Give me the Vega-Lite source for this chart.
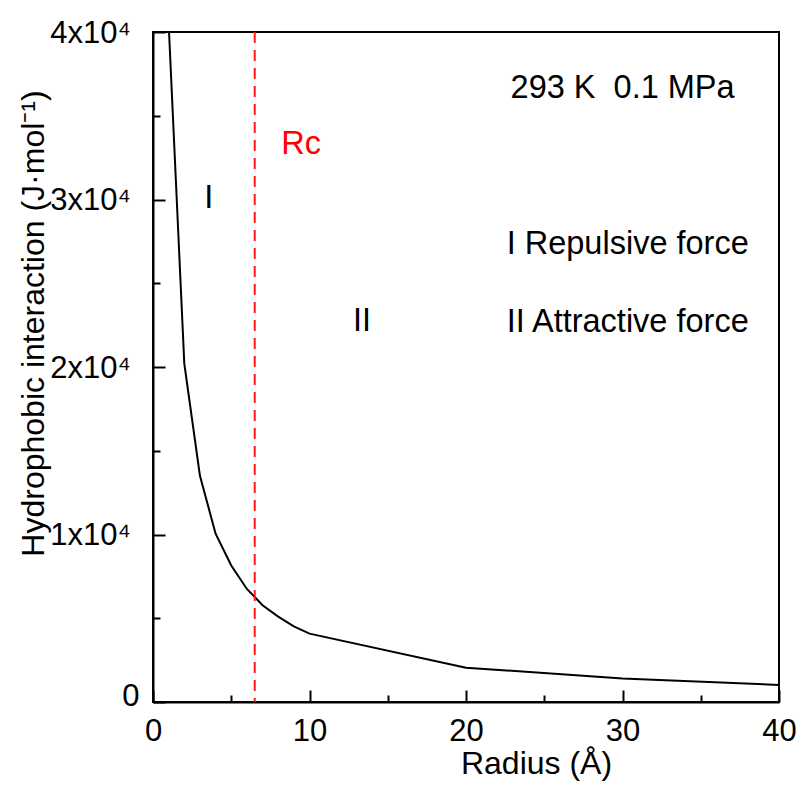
{
  "$schema": "https://vega.github.io/schema/vega-lite/v6.json",
  "width": 626,
  "height": 670,
  "autosize": {"type": "none"},
  "padding": {"left": 153, "top": 32, "right": 24, "bottom": 92},
  "background": "white",
  "config": {
    "view": {"stroke": "black", "strokeWidth": 2},
    "font": "Liberation Sans",
    "axis": {
      "grid": false,
      "domainColor": "black",
      "domainWidth": 2,
      "tickColor": "black",
      "tickWidth": 2,
      "labelColor": "black",
      "labelFont": "Liberation Sans",
      "labelFontSize": 31,
      "labelOverlap": false,
      "labelFlush": false,
      "titleColor": "black",
      "titleFont": "Liberation Sans",
      "titleFontSize": 32,
      "titleFontWeight": "normal"
    }
  },
  "datasets": {
    "curve": [
      {"radius": 1, "energy": 40500},
      {"radius": 2, "energy": 20200},
      {"radius": 3, "energy": 13500},
      {"radius": 4, "energy": 10050},
      {"radius": 5, "energy": 8150},
      {"radius": 6, "energy": 6750},
      {"radius": 7, "energy": 5780},
      {"radius": 8, "energy": 5100},
      {"radius": 9, "energy": 4520},
      {"radius": 10, "energy": 4080},
      {"radius": 20, "energy": 2050},
      {"radius": 30, "energy": 1400},
      {"radius": 40, "energy": 1020}
    ],
    "rc": [{"radius": 6.5}],
    "leftText": [
      {"radius": 22.85, "energy": 36060, "label": "293 K\u00a0\u00a00.1 MPa"},
      {"radius": 22.6, "energy": 26770, "label": "I Repulsive force"},
      {"radius": 22.6, "energy": 22090, "label": "II Attractive force"}
    ],
    "centerText": [
      {"radius": 3.56, "energy": 29520, "label": "I"},
      {"radius": 13.35, "energy": 22150, "label": "II"}
    ],
    "rcText": [{"radius": 8.19, "energy": 32740, "label": "Rc"}]
  },
  "layer": [
    {
      "data": {"name": "curve"},
      "mark": {"type": "line", "color": "black", "strokeWidth": 2, "clip": true},
      "encoding": {
        "x": {
          "field": "radius",
          "type": "quantitative",
          "scale": {"domain": [0, 40], "nice": false, "zero": false},
          "axis": {
            "title": "Radius (Å)",
            "values": [0, 5, 10, 15, 20, 25, 30, 35, 40],
            "labelExpr": "datum.value % 10 ? '' : datum.label",
            "tickSize": {"condition": {"test": "datum.value % 10 !== 0", "value": -7}, "value": -12},
            "labelPadding": 26,
            "titleX": 383,
            "titleY": 71,
            "titleAlign": "center",
            "titleAnchor": null,
            "titleBaseline": "alphabetic"
          }
        },
        "y": {
          "field": "energy",
          "type": "quantitative",
          "scale": {"domain": [0, 40000], "nice": false},
          "axis": {
            "title": "Hydrophobic interaction (J·mol⁻¹)",
            "values": [0, 5000, 10000, 15000, 20000, 25000, 30000, 35000, 40000],
            "labelExpr": "datum.value % 10000 ? '' : (datum.value == 0 ? '0' : format(datum.value / 10000, 'd') + 'x10⁴\u00a0\u200b')",
            "tickSize": {"condition": {"test": "datum.value % 10000 !== 0", "value": -7}, "value": -12},
            "labelPadding": 26,
            "labelOffset": {"condition": {"test": "datum.value == 0", "value": -6}, "value": 1},
            "titleX": -110,
            "titleY": 291,
            "titleAngle": 270,
            "titleAlign": "center",
            "titleAnchor": null,
            "titleBaseline": "alphabetic"
          }
        }
      }
    },
    {
      "data": {"name": "rc"},
      "mark": {"type": "rule", "color": "#ff1a1a", "strokeWidth": 2, "strokeDash": [11, 7]},
      "encoding": {
        "x": {"field": "radius", "type": "quantitative"}
      }
    },
    {
      "data": {"name": "leftText"},
      "mark": {"type": "text", "align": "left", "baseline": "alphabetic", "fontSize": 32.5, "color": "black", "font": "Liberation Sans"},
      "encoding": {
        "x": {"field": "radius", "type": "quantitative"},
        "y": {"field": "energy", "type": "quantitative"},
        "text": {"field": "label"}
      }
    },
    {
      "data": {"name": "centerText"},
      "mark": {"type": "text", "align": "center", "baseline": "alphabetic", "fontSize": 32.5, "color": "black", "font": "Liberation Sans"},
      "encoding": {
        "x": {"field": "radius", "type": "quantitative"},
        "y": {"field": "energy", "type": "quantitative"},
        "text": {"field": "label"}
      }
    },
    {
      "data": {"name": "rcText"},
      "mark": {"type": "text", "align": "left", "baseline": "alphabetic", "fontSize": 32.5, "color": "#ff0000", "font": "Liberation Sans"},
      "encoding": {
        "x": {"field": "radius", "type": "quantitative"},
        "y": {"field": "energy", "type": "quantitative"},
        "text": {"field": "label"}
      }
    }
  ]
}
